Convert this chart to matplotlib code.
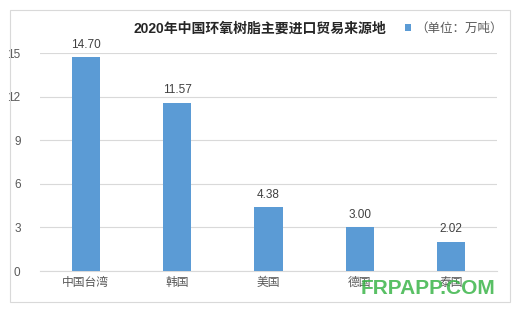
import matplotlib.pyplot as plt
from matplotlib.patches import Rectangle

plt.rcParams['font.family'] = ['Liberation Sans', 'Noto Sans CJK SC']

# data
regions = ["中国台湾", "韩国", "美国", "德国", "泰国"]
imports = [14.70, 11.57, 4.38, 3.00, 2.02]
yticks = [0, 3, 6, 9, 12, 15]

fig = plt.figure(figsize=(5.22, 3.12), dpi=100)
fig.patch.set_facecolor("white")

# outer frame
fig.patches.append(Rectangle((10 / 522, 1 - 302 / 312), 500 / 522, 292 / 312,
                             transform=fig.transFigure, fill=False,
                             edgecolor="#d9d9d9", lw=0.8))

ax = fig.add_axes([40 / 522, 1 - 271 / 312, 457 / 522, 218 / 312])
x = range(len(regions))
ax.bar(x, imports, width=0.31, color="#5b9bd5", zorder=3, label="（单位：万吨）")

for xi, v in zip(x, imports):
    ax.text(xi, v + 0.45, f"{v:.2f}", ha="center", va="bottom",
            fontsize=8.5, color="#404040")

ax.set_xlim(-0.5, len(regions) - 0.5)
ax.set_ylim(0, 15)
ax.set_yticks(yticks)
ax.set_xticks(list(x))
ax.set_xticklabels(regions)
ax.tick_params(axis="both", length=0, labelsize=8.5, colors="#595959")
ax.tick_params(axis="y", pad=14)
ax.tick_params(axis="x", pad=4)
ax.grid(axis="y", color="#d9d9d9", lw=0.8, zorder=0)
for s in ["top", "right", "left"]:
    ax.spines[s].set_visible(False)
ax.spines["bottom"].set_color("#d9d9d9")

fig.text(260 / 522, 1 - 29 / 312, "2020年中国环氧树脂主要进口贸易来源地",
         ha="center", va="center", fontsize=10, fontweight="bold", color="#262626")

ax.legend(loc="center left", bbox_to_anchor=(405 / 522, 1 - 29 / 312),
          bbox_transform=fig.transFigure, frameon=False, fontsize=9,
          handlelength=0.45, handleheight=0.45, handletextpad=0.4,
          labelcolor="#595959", borderaxespad=0, borderpad=0)

fig.text(428 / 522, 1 - 288 / 312, "FRPAPP.COM", ha="center", va="center",
         fontsize=15, color="#3cb54a", alpha=0.85, fontweight="bold")

fig.savefig("out.png", dpi=100)
